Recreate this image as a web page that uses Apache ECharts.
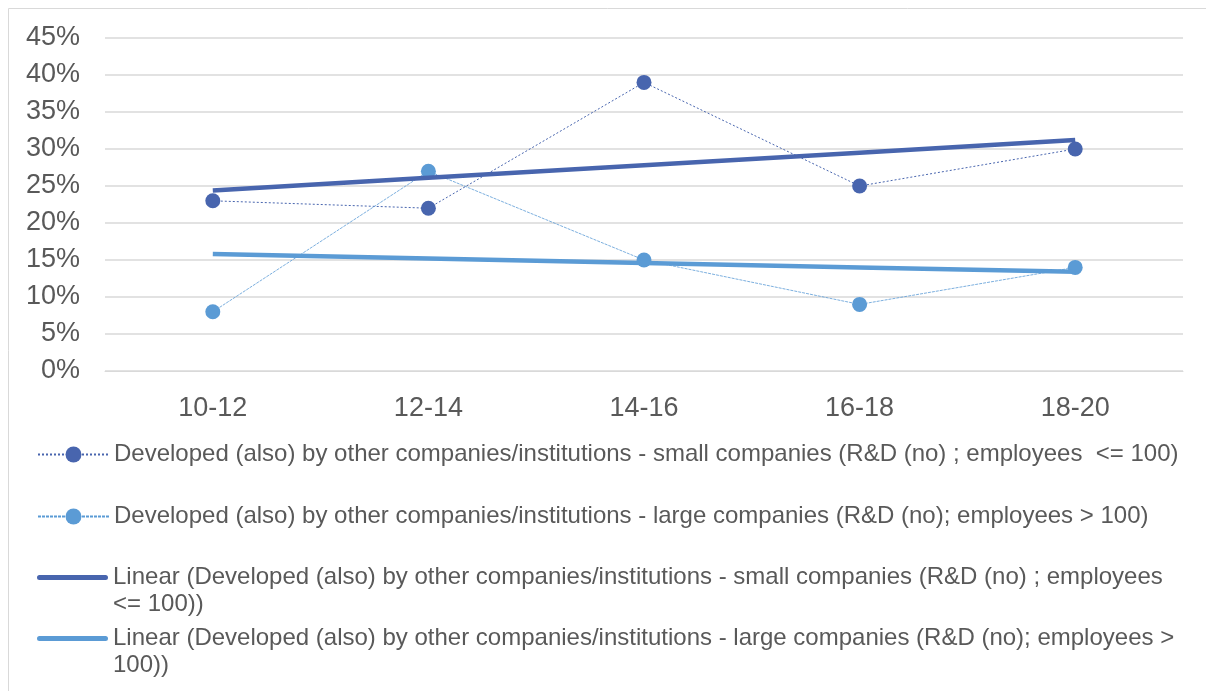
<!DOCTYPE html>
<html>
<head>
<meta charset="utf-8">
<script src="https://cdn.jsdelivr.net/npm/echarts@6/dist/echarts.min.js"></script>
<style>
  html, body { margin: 0; padding: 0; background: #fff; }
  #chart { width: 1206px; height: 691px; }
</style>
</head>
<body>
<div id="chart"></div>
<script>
// categories (periods)
const periods = ["10-12", "12-14", "14-16", "16-18", "18-20"];
// share of developments, in %
const smallCompanies = [23, 22, 39, 25, 30];
const largeCompanies = [8, 27, 15, 9, 14];
// linear trend lines
const smallTrend = [24.4, 26.1, 27.8, 29.5, 31.2];
const largeTrend = [15.8, 15.2, 14.6, 14.0, 13.4];
const yTicks = [0, 5, 10, 15, 20, 25, 30, 35, 40, 45];

const nameSmall = "Developed (also) by other companies/institutions - small companies (R&D (no) ; employees  <= 100)";
const nameLarge = "Developed (also) by other companies/institutions - large companies (R&D (no); employees > 100)";
const nameSmallTrend = "Linear (Developed (also) by other companies/institutions - small companies (R&D (no) ; employees  <= 100))";
const nameLargeTrend = "Linear (Developed (also) by other companies/institutions - large companies (R&D (no); employees > 100))";

const darkBlue = "#4865AE";
const lightBlue = "#5B9BD5";
const grey = "#595959";
const fontFam = "'Liberation Sans', Arial, sans-serif";

// thick bar at the top of the icon box, so it lines up with the first text line
const trendIcon = "path://M2.5,0H68.5A2.5,2.5 0 0 1 68.5,5H2.5A2.5,2.5 0 0 1 2.5,0Z M0,32H71V32H0Z";

// one legend per entry so each row can sit where it is in the picture
function legendRow(name, top, isTrend) {
  return {
    data: isTrend ? [{ name: name, icon: trendIcon }] : [name],
    left: 37,
    top: top,
    padding: 0,
    orient: "vertical",
    itemWidth: 71,
    itemHeight: isTrend ? 32 : 20,
    itemGap: 0,
    selectedMode: false,
    symbolKeepAspect: false,
    textStyle: {
      color: grey,
      fontSize: 24,
      fontFamily: fontFam,
      lineHeight: 27,
      width: 1072,
      overflow: "break",
    },
  };
}

const myChart = echarts.init(document.getElementById("chart"));
myChart.setOption({
  animation: false,
  grid: {
    left: 105,
    right: 23,
    top: 38,
    bottom: 320,
  },
  graphic: [
    {
      type: "rect",
      shape: { x: 8.5, y: 8.5, width: 1400, height: 900 },
      style: { fill: "none", stroke: "#d9d9d9", lineWidth: 1 },
      silent: true,
    },
  ],
  legend: [
    legendRow(nameSmall, 441, false),
    legendRow(nameLarge, 503, false),
    legendRow(nameSmallTrend, 564, true),
    legendRow(nameLargeTrend, 625, true),
  ],
  xAxis: {
    type: "category",
    data: periods,
    boundaryGap: true,
    axisLine: { show: true, lineStyle: { color: "#d9d9d9", width: 1 } },
    axisTick: { show: false },
    axisLabel: {
      color: grey,
      fontSize: 27,
      fontFamily: fontFam,
      margin: 24,
    },
  },
  yAxis: {
    type: "value",
    min: yTicks[0],
    max: yTicks[yTicks.length - 1],
    interval: 5,
    axisLine: { show: false },
    axisTick: { show: false },
    splitLine: { lineStyle: { color: "#d9d9d9", width: 1.5 } },
    axisLabel: {
      color: grey,
      fontSize: 27,
      fontFamily: fontFam,
      margin: 25,
      formatter: "{value}%",
    },
  },
  series: [
    {
      name: nameSmall,
      type: "line",
      data: smallCompanies,
      symbol: "circle",
      symbolSize: 15,
      itemStyle: { color: darkBlue },
      lineStyle: { color: darkBlue, width: 1, type: [2, 2] },
      z: 3,
    },
    {
      name: nameLarge,
      type: "line",
      data: largeCompanies,
      symbol: "circle",
      symbolSize: 15,
      itemStyle: { color: lightBlue },
      lineStyle: { color: lightBlue, width: 0.8, type: [3, 1] },
      z: 3,
    },
    {
      name: nameSmallTrend,
      type: "line",
      data: smallTrend,
      symbol: "none",
      itemStyle: { color: darkBlue },
      lineStyle: { color: darkBlue, width: 4.5 },
      z: 4,
    },
    {
      name: nameLargeTrend,
      type: "line",
      data: largeTrend,
      symbol: "none",
      itemStyle: { color: lightBlue },
      lineStyle: { color: lightBlue, width: 4.5 },
      z: 4,
    },
  ],
});
</script>
</body>
</html>
